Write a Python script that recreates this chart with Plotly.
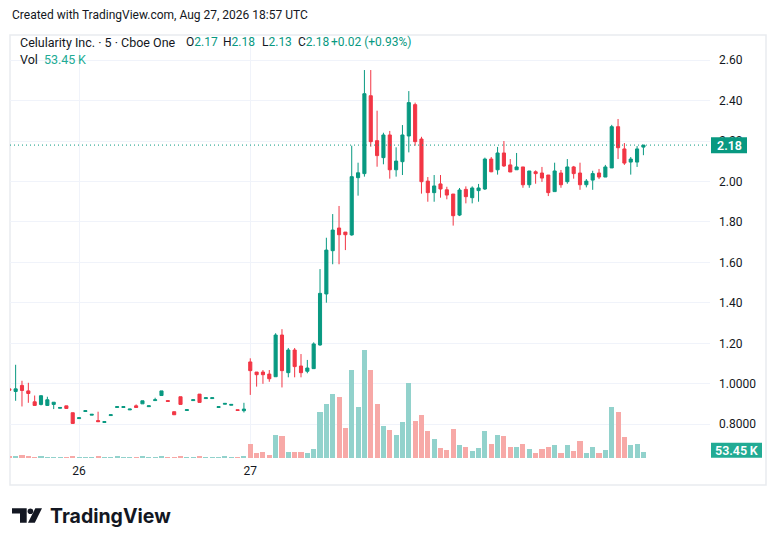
import plotly.graph_objects as go

# 5-minute bars, Celularity Inc. (Cboe One), end of day 25 -> day 27
opens = [0.975, 0.962, 0.992, 0.965, 0.911, 0.898, 0.893, 0.898, 0.879, 0.891,
         0.857, 0.828, 0.863, 0.845, 0.818, 0.809, 0.843, 0.883, 0.883, 0.871,
         0.891, 0.901, 0.887, 0.917, 0.942, 0.917, 0.862, 0.936, 0.868, 0.917,
         0.949, 0.927, 0.927, 0.883, 0.899, 0.894, 0.872, 0.867,
         1.108, 1.058, 1.058, 1.048, 1.035, 1.241, 1.055, 1.167, 1.088, 1.062,
         1.075, 1.192, 1.444, 1.658, 1.770, 1.750, 1.736, 2.019, 2.039, 2.424,
         2.202, 2.118, 2.230, 2.058, 2.098, 2.225, 2.380, 2.210, 2.002, 1.945,
         1.988, 1.959, 1.938, 1.834, 1.961, 1.920, 1.955, 1.963, 2.111, 2.058,
         2.141, 2.082, 2.058, 2.072, 1.984, 2.048, 2.042, 2.032, 1.950, 2.042,
         1.999, 2.072, 2.042, 1.984, 2.007, 2.042, 2.022, 2.067, 2.271, 2.161,
         2.096, 2.096, 2.17]
highs = [0.978, 1.094, 1.015, 1.005, 0.942, 0.943, 0.936, 0.909, 0.883, 0.891,
         0.857, 0.832, 0.867, 0.849, 0.862, 0.813, 0.847, 0.887, 0.887, 0.875,
         0.898, 0.916, 0.891, 0.931, 0.965, 0.917, 0.862, 0.936, 0.872, 0.921,
         0.949, 0.931, 0.931, 0.887, 0.903, 0.898, 0.872, 0.906,
         1.126, 1.058, 1.068, 1.068, 1.250, 1.270, 1.177, 1.177, 1.147, 1.118,
         1.205, 1.567, 1.722, 1.839, 1.879, 1.750, 2.177, 2.093, 2.551, 2.551,
         2.350, 2.241, 2.250, 2.169, 2.279, 2.447, 2.390, 2.221, 2.022, 2.032,
         2.032, 1.974, 1.938, 1.968, 1.976, 1.976, 1.988, 2.118, 2.121, 2.171,
         2.200, 2.111, 2.141, 2.072, 2.052, 2.055, 2.072, 2.032, 2.093, 2.057,
         2.111, 2.077, 2.093, 2.012, 2.053, 2.062, 2.082, 2.280, 2.309, 2.190,
         2.121, 2.175, 2.18]
lows = [0.965, 0.916, 0.888, 0.906, 0.893, 0.893, 0.891, 0.875, 0.879, 0.878,
        0.804, 0.828, 0.863, 0.845, 0.813, 0.809, 0.843, 0.883, 0.883, 0.871,
        0.883, 0.901, 0.887, 0.917, 0.942, 0.913, 0.847, 0.898, 0.868, 0.917,
        0.908, 0.927, 0.927, 0.883, 0.899, 0.894, 0.868, 0.858,
        0.945, 0.986, 1.000, 1.010, 1.035, 0.982, 1.032, 1.032, 1.032, 1.052,
        1.075, 1.188, 1.401, 1.591, 1.591, 1.661, 1.732, 1.930, 2.024, 2.172,
        2.073, 2.085, 2.014, 2.024, 2.032, 2.144, 2.177, 1.940, 1.900, 1.900,
        1.920, 1.912, 1.782, 1.829, 1.892, 1.892, 1.900, 1.958, 2.046, 2.034,
        2.072, 2.047, 2.058, 1.969, 1.969, 1.989, 1.998, 1.928, 1.950, 1.969,
        1.989, 2.014, 1.959, 1.971, 1.959, 2.012, 2.022, 2.067, 2.111, 2.082,
        2.034, 2.072, 2.13]
closes = [0.968, 0.975, 0.967, 0.952, 0.893, 0.941, 0.921, 0.909, 0.883, 0.878,
          0.804, 0.832, 0.867, 0.849, 0.813, 0.813, 0.847, 0.887, 0.887, 0.875,
          0.883, 0.916, 0.891, 0.921, 0.965, 0.913, 0.847, 0.898, 0.872, 0.921,
          0.908, 0.931, 0.931, 0.887, 0.903, 0.898, 0.868, 0.875,
          1.065, 1.045, 1.045, 1.025, 1.241, 1.065, 1.167, 1.085, 1.055, 1.078,
          1.197, 1.447, 1.661, 1.760, 1.737, 1.737, 2.024, 2.043, 2.434, 2.197,
          2.128, 2.230, 2.058, 2.101, 2.230, 2.390, 2.197, 1.999, 1.945, 1.978,
          1.963, 1.933, 1.831, 1.958, 1.925, 1.968, 1.968, 2.111, 2.048, 2.141,
          2.077, 2.047, 2.072, 1.984, 2.052, 2.039, 2.017, 1.945, 2.052, 1.984,
          2.072, 2.039, 1.984, 2.002, 2.039, 2.022, 2.072, 2.271, 2.167, 2.091,
          2.111, 2.161, 2.18]
volumes = [9000, 18000, 24000, 15000, 8000, 9000, 8000, 7000, 8000, 8000,
           9000, 8000, 7000, 8000, 9000, 8000, 8000, 9000, 8000, 8000,
           8000, 9000, 8000, 8000, 9000, 8000, 8000, 9000, 8000, 8000,
           9000, 8000, 8000, 8000, 9000, 8000, 8000, 9000,
           122000, 45000, 51000, 24000, 202000, 193000, 51000, 51000, 51000, 42000,
           77000, 407000, 478000, 567000, 541000, 265000, 781000, 452000, 959000, 781000,
           478000, 282000, 247000, 202000, 318000, 665000, 327000, 380000, 238000, 167000,
           88000, 70000, 258000, 116000, 98000, 62000, 89000, 240000, 125000, 205000,
           196000, 98000, 98000, 125000, 80000, 45000, 80000, 98000, 116000, 45000,
           116000, 62000, 151000, 45000, 98000, 45000, 71000, 454000, 410000, 187000,
           116000, 125000, 53450]
day_ticks = [11, 38]
day_labels = ["26", "27"]
price_ticks = [0.8, 1.0, 1.2, 1.4, 1.6, 1.8, 2.0, 2.2, 2.4, 2.6]
price_labels = ["0.8000", "1.0000", "1.20", "1.40", "1.60", "1.80", "2.00", "2.20", "2.40", "2.60"]
last_price = 2.18

UP = "#089981"
DOWN = "#f23645"
TXT = "#131722"
GRID = "#f0f3fa"
FONT = "Roboto"

bars = list(range(len(closes)))
vol_colors = ["#92d2cc" if c >= o else "#f7a9a7" for o, c in zip(opens, closes)]

# page has an 8px body margin; plot area in page pixels: x 10..710, y 35..458
def fx(px):
    return (px - 10) / 700

def fy(py):
    return (458 - py) / 423

fig = go.Figure()
fig.add_trace(go.Bar(x=bars, y=volumes, yaxis="y2", width=0.8,
                     marker=dict(color=vol_colors, line=dict(width=0)),
                     hoverinfo="skip"))
fig.add_trace(go.Candlestick(x=bars, open=opens, high=highs, low=lows, close=closes,
                             increasing=dict(line=dict(color=UP, width=1), fillcolor=UP),
                             decreasing=dict(line=dict(color=DOWN, width=1), fillcolor=DOWN),
                             whiskerwidth=0))

fig.update_layout(
    width=768, height=538,
    margin=dict(l=2, r=66, t=27, b=88),
    paper_bgcolor="white", plot_bgcolor="white",
    showlegend=False, boxgap=0.3, bargap=0,
    font=dict(family=FONT, size=12, color=TXT),
    xaxis=dict(range=[0.11, 110.5], tickvals=day_ticks, ticktext=day_labels,
               showgrid=True, gridcolor=GRID, zeroline=False, showline=False,
               ticks="", rangeslider=dict(visible=False), fixedrange=True,
               ticklabelstandoff=4, tickfont=dict(size=12, color=TXT)),
    yaxis=dict(range=[0.6332, 2.7242], side="right", tickvals=price_ticks,
               ticktext=price_labels, showgrid=True, gridcolor=GRID,
               zeroline=False, showline=False, ticks="", ticklabelstandoff=8,
               tickfont=dict(size=12, color=TXT)),
    yaxis2=dict(range=[0, 3770000], overlaying="y", visible=False),
)

shapes = [
    # frame around chart
    dict(type="rect", xref="paper", yref="paper", x0=fx(10), x1=fx(766), y0=fy(485), y1=fy(35),
         line=dict(color="#e9ebef", width=1.5), layer="below"),
    # last price dotted line
    dict(type="line", xref="paper", yref="y", x0=0, x1=1, y0=last_price, y1=last_price,
         line=dict(color=UP, width=1, dash="1px,3px")),
    # last price box
    dict(type="rect", xref="paper", yref="paper", x0=fx(711), x1=fx(747), y0=fy(153.3), y1=fy(137.3),
         fillcolor=UP, line=dict(width=0)),
    # volume box
    dict(type="rect", xref="paper", yref="paper", x0=fx(711), x1=fx(762), y0=fy(457.7), y1=fy(442.7),
         fillcolor="#22ab94", line=dict(width=0)),
    # TradingView logo
    dict(type="path", xref="paper", yref="paper", fillcolor=TXT, line=dict(width=0),
         path=f"M {fx(12)},{fy(508.3)} L {fx(26.7)},{fy(508.3)} L {fx(26.7)},{fy(522.7)} "
              f"L {fx(20)},{fy(522.7)} L {fx(20)},{fy(513.5)} L {fx(12)},{fy(513.5)} Z"),
    dict(type="circle", xref="paper", yref="paper", fillcolor=TXT, line=dict(width=0),
         x0=fx(27.6), x1=fx(33.2), y0=fy(514), y1=fy(508.4)),
    dict(type="path", xref="paper", yref="paper", fillcolor=TXT, line=dict(width=0),
         path=f"M {fx(35.3)},{fy(508.3)} L {fx(42)},{fy(508.3)} L {fx(34.8)},{fy(522.7)} "
              f"L {fx(28)},{fy(522.7)} Z"),
]
fig.update_layout(shapes=shapes)

def note(text, px, py, color=TXT, size=12, anchor="left", weight=None, family=FONT):
    f = dict(family=family, size=size, color=color)
    if weight:
        f["weight"] = weight
    fig.add_annotation(text=text, xref="paper", yref="paper", x=fx(px), y=fy(py),
                       xanchor=anchor, yanchor="middle", showarrow=False, font=f)

note("Created with TradingView.com, Aug 27, 2026 18:57 UTC", 10, 15, size=12)
note("Celularity Inc. · 5 · Cboe One", 18, 42.5, size=12.5)
for label, val, px in [("O", "2.17", 183.7), ("H", "2.18", 221), ("L", "2.13", 259.7), ("C", "2.18", 296)]:
    note(f"{label}<span style='color:{UP}'>{val}</span>", px, 42.5, size=12)
note("+0.02 (+0.93%)", 329, 42.5, color=UP, size=12)
note("Vol", 18, 59.5, size=12.5)
note("53.45\u2009K", 41.5, 59.5, color="#22ab94", size=12.5)
note("2.18", 729, 145.5, color="white", size=12.5, anchor="center", weight=600)
note("53.45\u2009K", 736.5, 450.2, color="white", size=12.5, anchor="center", weight=600)
note("TradingView", 48, 516, size=19.5, weight=700, family="Inter")

fig.write_html("out.html")
